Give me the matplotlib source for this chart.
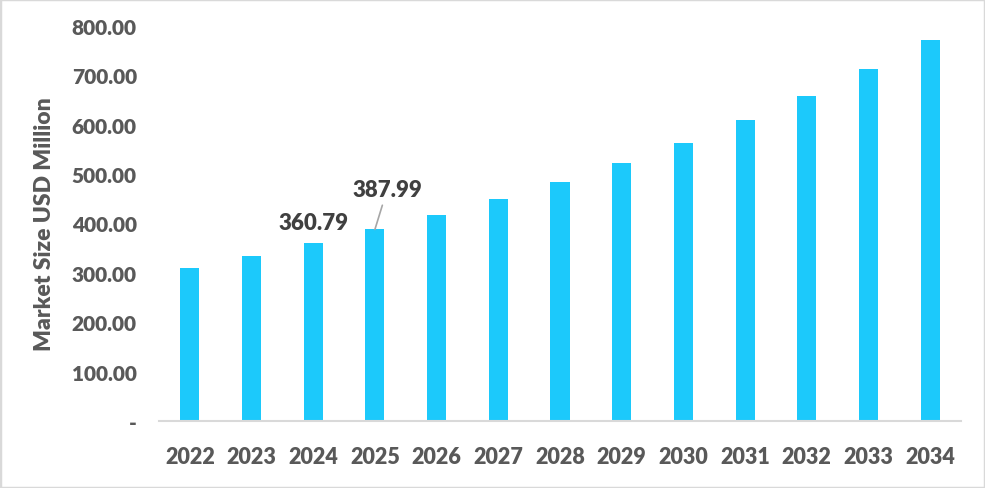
import matplotlib
matplotlib.use('Agg')
import matplotlib.pyplot as plt
from matplotlib.patches import Rectangle

years = ['2022', '2023', '2024', '2025', '2026', '2027', '2028',
         '2029', '2030', '2031', '2032', '2033', '2034']
market_size = [309.0, 333.5, 360.79, 387.99, 417.5, 450.0, 484.5,
               523.0, 563.5, 610.0, 658.5, 713.5, 772.0]
yticks = [0, 100, 200, 300, 400, 500, 600, 700, 800]
ytick_labels = ['-', '100.00', '200.00', '300.00', '400.00',
                '500.00', '600.00', '700.00', '800.00']

bar_color = '#1CC9FB'
text_gray = '#595959'
label_dark = '#404040'

plt.rcParams['font.family'] = ['Lato', 'DejaVu Sans']
W = 'heavy'

fig = plt.figure(figsize=(9.85, 4.89), dpi=100)
ax = fig.add_axes([159 / 985, 67 / 489, 802 / 985, 395 / 489])

x = list(range(len(years)))
ax.bar(x, market_size, width=0.31, color=bar_color, zorder=2)

ax.set_xlim(-0.5, len(years) - 0.5)
ax.set_ylim(0, 800)
ax.set_xticks(x)
ax.set_xticklabels(years)
ax.set_yticks(yticks)
ax.set_yticklabels(ytick_labels)
ax.tick_params(axis='both', length=0, labelcolor=text_gray)
ax.tick_params(axis='y', pad=16, labelsize=15)
ax.tick_params(axis='x', pad=18, labelsize=15.5)
for lbl in ax.get_xticklabels() + ax.get_yticklabels():
    lbl.set_fontweight(W)

for side in ['top', 'right', 'left']:
    ax.spines[side].set_visible(False)
ax.spines['bottom'].set_color('#d9d9d9')
ax.spines['bottom'].set_linewidth(1.5)

ax.set_ylabel('Market Size USD Million', fontsize=16.5, fontweight=W,
              color=text_gray, labelpad=12)

# data labels for 2024 and 2025
ax.text(2, market_size[2] + 20, f'{market_size[2]:.2f}', ha='center', va='bottom',
        fontsize=16, fontweight=W, color=label_dark)
ax.annotate(f'{market_size[3]:.2f}', xy=(3, market_size[3]),
            xytext=(3.2, market_size[3] + 60), ha='center', va='bottom',
            fontsize=16, fontweight=W, color=label_dark,
            arrowprops=dict(arrowstyle='-', color='#a6a6a6', lw=1.2,
                            shrinkA=2, shrinkB=0))

fig.patches.append(Rectangle((0, 0), 1, 1, transform=fig.transFigure,
                             fill=False, edgecolor='#d9d9d9', lw=2.5))

fig.savefig('out.png', dpi=100)
